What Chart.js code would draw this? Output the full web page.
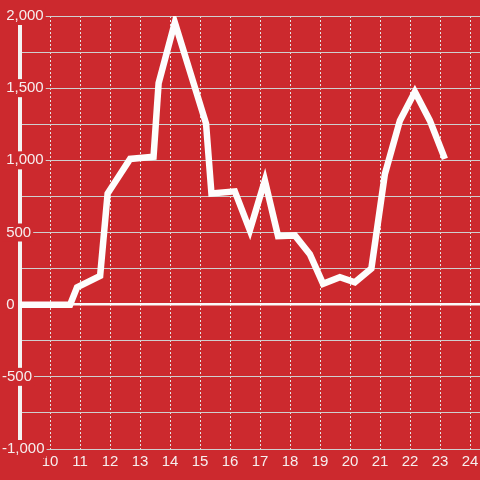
<!DOCTYPE html>
<html>
<head>
<meta charset="utf-8">
<script src="https://cdn.jsdelivr.net/npm/chart.js@4.4.1/dist/chart.umd.min.js"></script>
<style>
  html, body { margin: 0; padding: 0; background: #cc292e; }
  #chart { display: block; background: #cc292e; }
</style>
</head>
<body>
<canvas id="chart" width="480" height="480"></canvas>
<script>
// hour of day (decimal) and value at each point
const hours = [8.67, 9.17, 9.67, 10.17, 10.67, 10.9, 11.67, 11.92, 12.67, 13.45, 13.62, 14.16,
               15.2, 15.38, 16.16, 16.66, 17.16, 17.6, 18.16, 18.66, 19.1, 19.66, 20.16, 20.71,
               21.16, 21.66, 22.16, 22.66, 23.16];
const values = [0, 0, 0, 0, 0, 120, 200, 770, 1010, 1025, 1535, 1955,
                1255, 770, 785, 515, 860, 475, 480, 350, 145, 190, 155, 250,
                905, 1275, 1475, 1275, 1010];
const xTickLabels = [10, 11, 12, 13, 14, 15, 16, 17, 18, 19, 20, 21, 22, 23, 24];
const yTickLabels = [-1000, -500, 0, 500, 1000, 1500, 2000];

const textColor = '#f6eeee';
const gridColor = '#cfcfcf';

const ctx = document.getElementById('chart').getContext('2d');
new Chart(ctx, {
    type: 'line',
    data: {
        datasets: [{
            data: hours.map((h, i) => ({ x: h, y: values[i] })),
            borderColor: '#fdfdfd',
            borderWidth: 6.5,
            pointRadius: 0,
            tension: 0,
            fill: false
        }]
    },
    options: {
        responsive: false,
        animation: false,
        layout: { padding: { top: 16, bottom: 5, left: 0, right: 0 } },
        plugins: {
            legend: { display: false },
            tooltip: { enabled: false }
        },
        scales: {
            x: {
                type: 'linear',
                min: 9,
                max: 24.33,
                afterFit: scale => { scale.paddingLeft = 0; scale.paddingRight = 0; },
                grid: {
                    color: ctx => ctx.tick && xTickLabels.includes(ctx.tick.value) ? '#e4e4e4' : 'rgba(0,0,0,0)',
                    lineWidth: 1,
                    drawTicks: false
                },
                border: { display: false, dash: [2, 2] },
                ticks: {
                    stepSize: 1,
                    autoSkip: false,
                    includeBounds: false,
                    maxRotation: 0,
                    padding: 4,
                    color: textColor,
                    font: { family: 'Liberation Sans, Arial, sans-serif', size: 15 },
                    callback: v => xTickLabels.includes(v) ? String(v) : ''
                }
            },
            y: {
                min: -1000,
                max: 2000,
                afterFit: scale => { scale.width = 20; },
                grid: {
                    color: ctx => ctx.tick && ctx.tick.value === 0 ? '#fafafa' : gridColor,
                    lineWidth: ctx => ctx.tick && ctx.tick.value === 0 ? 2.5 : 1,
                    drawTicks: false
                },
                border: { display: true, color: '#f4f4f4', width: 4 },
                ticks: {
                    stepSize: 250,
                    autoSkip: false,
                    mirror: true,
                    padding: -18,
                    color: textColor,
                    font: { family: 'Liberation Sans, Arial, sans-serif', size: 15 },
                    showLabelBackdrop: ctx => yTickLabels.includes(ctx.tick.value),
                    backdropColor: '#cc292e',
                    backdropPadding: { top: 0, bottom: 0, left: 0, right: 2 },
                    callback: v => yTickLabels.includes(v) ? (v < 0 ? '' : ' ') + v.toLocaleString('en-US') : ''
                }
            }
        }
    }
});
</script>
</body>
</html>
